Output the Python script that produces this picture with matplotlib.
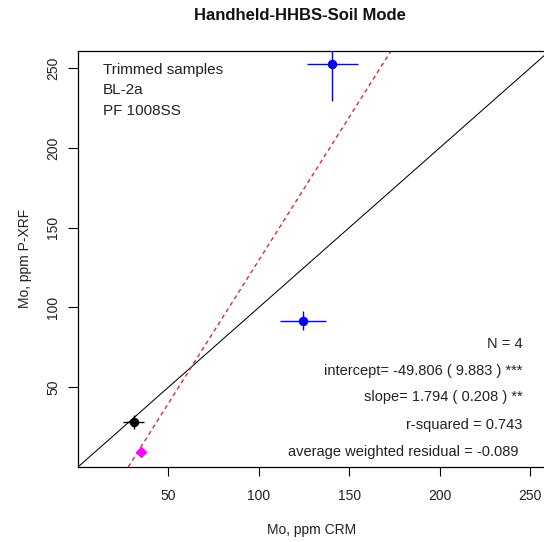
import matplotlib
matplotlib.use("Agg")
import matplotlib.pyplot as plt

plt.rcParams['font.family'] = ['Liberation Sans', 'DejaVu Sans']

# CRM values (x) vs P-XRF readings (y), with 1-sd error bars
crm = [30.7, 124.5, 140.7]
xrf = [28.4, 91.7, 252.7]
crm_sd = [5.7, 12.8, 14.0]
xrf_sd = [4.4, 6.0, 23.6]
colours = ['black', 'blue', 'blue']

# trimmed sample
trim_crm = [34.7]
trim_xrf = [9.6]

intercept = -49.806
intercept_se = 9.883
slope = 1.794
slope_se = 0.208
r_squared = 0.743
avg_resid = -0.089
n_samples = 4

W, H = 544, 542
fig = plt.figure(figsize=(W / 100, H / 100), dpi=100)

# axes box in pixels (left, right, top, bottom)
L, R, T, B = 78, 544, 50.5, 467
ax = fig.add_axes([L / W, (H - B) / H, (R - L) / W, (B - T) / H])
ax.set_xlim(0, 257.7)
ax.set_ylim(0, 261)
ax.spines['right'].set_visible(False)
for s in ['left', 'top', 'bottom']:
    ax.spines[s].set_linewidth(0.9)

ax.set_xticks([50, 100, 150, 200, 250])
ax.set_yticks([50, 100, 150, 200, 250])
ax.tick_params(axis='x', length=6.5, width=0.8, pad=9, labelsize=10, labelcolor='#222222')
ax.tick_params(axis='y', length=7, width=0.8, pad=6, labelsize=10, labelcolor='#222222')
for lab in ax.get_yticklabels():
    lab.set_rotation(90)
    lab.set_va('center')

# 1:1 line and fitted regression
ax.axline((0, 0), slope=1, color='black', lw=0.75, zorder=2)
ax.axline((0, intercept), slope=slope, color='#d43030', lw=1.0,
          linestyle=(0, (3, 2.5)), zorder=2)

for x, y, xe, ye, c in zip(crm, xrf, crm_sd, xrf_sd, colours):
    ax.errorbar(x, y, xerr=xe, yerr=ye, fmt='o', color=c, ms=5.8,
                elinewidth=1.0, capsize=0, zorder=3)
ax.plot(trim_crm, trim_xrf, 'D', color='#ff00ff', ms=5.2, zorder=3)

def fx(px):
    return px / W

def fy(py):
    return 1 - py / H

fig.text(fx(300), fy(16), 'Handheld-HHBS-Soil Mode', ha='center', va='center',
         fontsize=12, fontweight='bold', color='#111111')
fig.text(fx(312), fy(530), 'Mo, ppm CRM', ha='center', va='center',
         fontsize=10, color='#222222')
fig.text(fx(25), fy(258), 'Mo, ppm P-XRF', ha='center', va='center',
         rotation=90, fontsize=10, color='#222222')

for i, s in enumerate(['Trimmed samples', 'BL-2a', 'PF 1008SS']):
    fig.text(fx(103), fy(70 + 20.5 * i), s, ha='left', va='center',
             fontsize=11, color='#222222')

stats = [
    (344, f'N = {n_samples}'),
    (370.7, f'intercept= {intercept:.3f} ( {intercept_se:.3f} ) ***'),
    (397.3, f'slope= {slope:.3f} ( {slope_se:.3f} ) **'),
    (425, f'r-squared = {r_squared:.3f}'),
    (452, f'average weighted residual = {avg_resid:.3f} '),
]
for py, s in stats:
    fig.text(fx(522.5), fy(py), s, ha='right', va='center',
             fontsize=10.5, color='#222222')

fig.savefig('out.png', dpi=100)
